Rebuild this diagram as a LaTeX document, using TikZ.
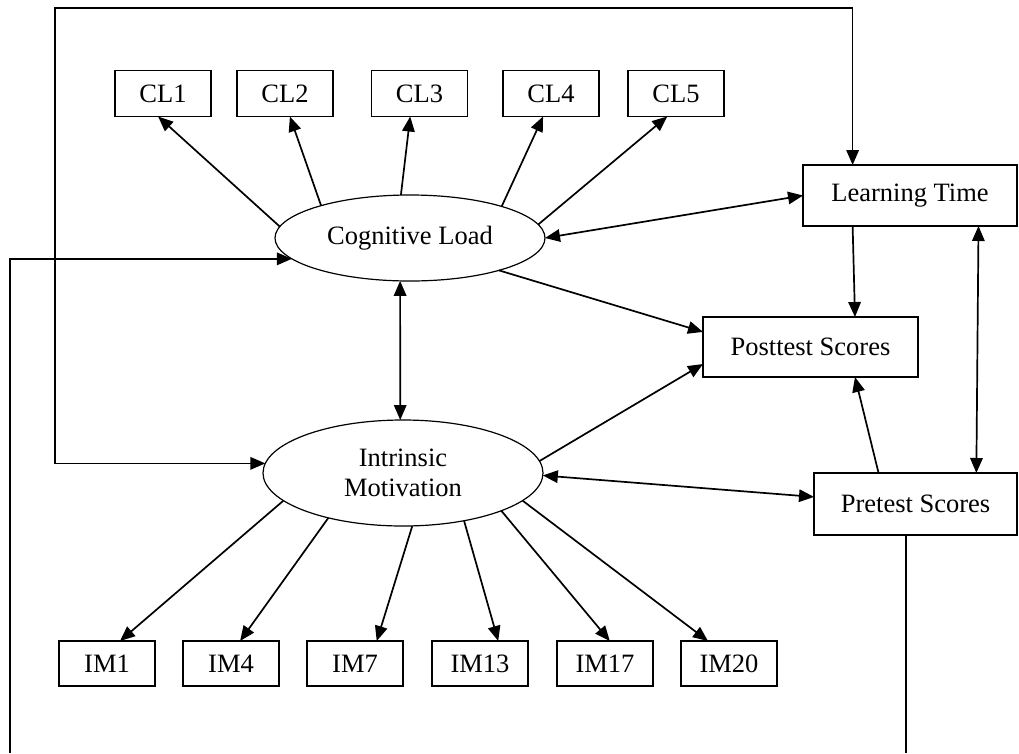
\documentclass[tikz,border=0pt]{standalone}
\usepackage{fontspec}
\setmainfont{Liberation Serif}
\usetikzlibrary{arrows.meta,shapes.geometric}
\begin{document}
\begin{tikzpicture}[x=1pt,y=-1pt,
  line width=1.7pt,
  >={Triangle[length=15pt,width=12.5pt]},
  every node/.style={font=\fontsize{26.5}{30}\selectfont, outer sep=0pt},
  obs/.style={draw, rectangle, inner sep=0pt, line width=1.5pt},
  ind/.style={obs, minimum width=96pt, minimum height=46pt},
  lat/.style={draw, ellipse, inner sep=0pt, align=center, line width=1.2pt}]
\useasboundingbox (0,0) rectangle (1019,753);

% indicator boxes of the two latent factors
\node[ind] (cl1) at (163,93.5) {CL1};
\node[ind] (cl2) at (285,93.5) {CL2};
\node[ind] (cl3) at (419.5,93.5) {CL3};
\node[ind] (cl4) at (551,93.5) {CL4};
\node[ind] (cl5) at (676,93.5) {CL5};

\node[ind, minimum height=45pt] (im1)  at (107,663.5) {IM1};
\node[ind, minimum height=45pt] (im4)  at (231,663.5) {IM4};
\node[ind, minimum height=45pt] (im7)  at (355,663.5) {IM7};
\node[ind, minimum height=45pt] (im13) at (480,663.5) {IM13};
\node[ind, minimum height=45pt] (im17) at (605,663.5) {IM17};
\node[ind, minimum height=45pt] (im20) at (729,663.5) {IM20};

% latent factors
\node[lat, minimum width=270pt, minimum height=86pt] (cl) at (410,238) {Cognitive Load};
\node[lat, minimum width=280pt, minimum height=106pt] (im) at (403,473) {Intrinsic\\Motivation};

% observed outcome variables
\node[obs, minimum width=214pt, minimum height=61pt] (lt)   at (910,195.5) {Learning Time};
\node[obs, minimum width=215pt, minimum height=60pt] (post) at (810.5,347) {Posttest Scores};
\node[obs, minimum width=203pt, minimum height=62pt] (pre)  at (915.5,504) {Pretest Scores};

% loadings
\draw[->] (cl.175) -- (cl1.-102);
\draw[->] (cl.160) -- (cl2.-78);
\draw[->] (cl.102) -- (cl3.-112);
\draw[->] (cl.19)  -- (cl4.-109);
\draw[->] (cl.6)   -- (cl5.-111);

\draw[->] (im.-167) -- (im1.60);
\draw[->] (im.-149) -- (im4.68);
\draw[->] (im.-80)  -- (im7.46);
\draw[->] (im.-38)  -- (im13.51);
\draw[->] (im.-21)  -- (im17.78);
\draw[->] (im.-13)  -- (im20.133);

% structural paths
\draw[<->] (cl.east) -- (lt.west);
\draw[->] (cl.-20) -- (post.172.6);
\draw[<->] (cl.-103) -- (im.93);
\draw[->] (im.5) -- (post.189.5);
\draw[<->] (im.-1) -- (pre.176.6);
\draw[->] (lt.-152) -- (post.34);
\draw[->] (pre.140) -- (post.-34);
\draw[<->] (lt.-24.5) -- (pre.27);

% long connectors around the frame
\coordinate (topL) at (55,8);
\draw[<->] (im.176) -| (topL) -| (lt.152);
\coordinate (botL) at (10,753);
\draw[->] (botL) |- (cl.190);
\coordinate (botR) at (907,753);
\draw (pre.-107) -- (pre.-107 |- botR);
\end{tikzpicture}
\end{document}
